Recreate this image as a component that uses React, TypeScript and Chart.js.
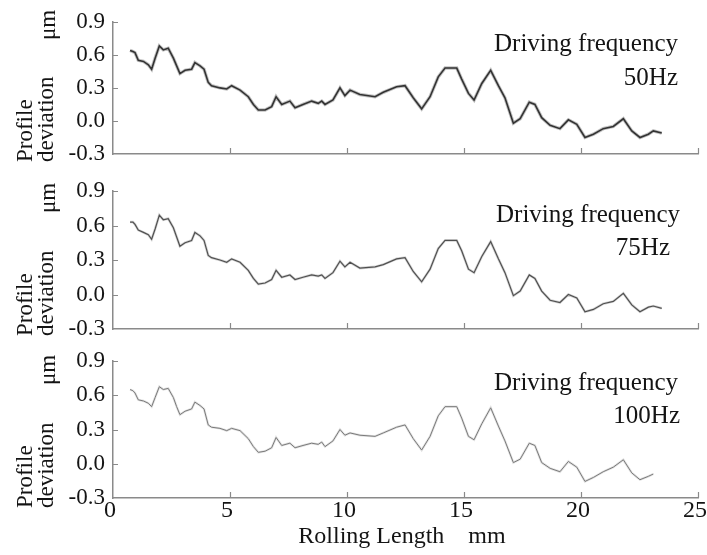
import React, { useEffect, useRef } from "react";
import { Chart, registerables } from "chart.js";

Chart.register(...registerables);

// ---- data ----
const lengthMm = [
  0.73, 0.85, 0.94, 1.08, 1.3, 1.51, 1.65, 1.8, 1.98, 2.15, 2.36, 2.58, 2.72, 2.86, 3.08, 3.36, 3.5, 3.72, 3.89, 4.07,
  4.21, 4.57, 4.86, 5.07, 5.43, 5.78, 6.0, 6.21, 6.5, 6.78, 6.97, 7.21, 7.56, 7.78, 8.12, 8.49, 8.77, 8.92, 9.06, 9.4,
  9.7, 9.91, 10.13, 10.55, 11.2, 11.55, 12.12, 12.48, 12.83, 13.19, 13.55, 13.9, 14.19, 14.69, 14.9, 15.19, 15.43, 15.76, 16.14, 16.47,
  16.75, 17.11, 17.4, 17.79, 18.03, 18.32, 18.68, 19.1, 19.46, 19.82, 20.17, 20.53, 20.95, 21.38, 21.81, 22.17, 22.52, 22.88, 23.09, 23.45,
];

const dev50Hz = [
  0.64, 0.63, 0.62, 0.55, 0.54, 0.51, 0.47, 0.57, 0.68, 0.645, 0.66, 0.57, 0.5, 0.43, 0.46, 0.47, 0.53, 0.5, 0.47, 0.35,
  0.32, 0.3, 0.29, 0.32, 0.28, 0.22, 0.15, 0.1, 0.1, 0.13, 0.22, 0.15, 0.18, 0.12, 0.15, 0.18, 0.16, 0.18, 0.15, 0.19,
  0.3, 0.23, 0.28, 0.24, 0.22, 0.26, 0.31, 0.32, 0.21, 0.11, 0.22, 0.4, 0.48, 0.48, 0.38, 0.25, 0.19, 0.34, 0.46, 0.32,
  0.21, -0.02, 0.02, 0.17, 0.15, 0.03, -0.04, -0.07, 0.01, -0.03, -0.15, -0.12, -0.07, -0.05, 0.02, -0.09, -0.15, -0.12, -0.09, -0.11,
];

const dev75Hz = [
  0.63, 0.63, 0.61, 0.56, 0.54, 0.52, 0.48, 0.57, 0.69, 0.65, 0.66, 0.58, 0.5, 0.42, 0.45, 0.47, 0.54, 0.51, 0.47, 0.34,
  0.32, 0.3, 0.28, 0.31, 0.28, 0.21, 0.14, 0.09, 0.1, 0.13, 0.21, 0.15, 0.17, 0.13, 0.15, 0.17, 0.16, 0.17, 0.14, 0.19,
  0.29, 0.24, 0.28, 0.23, 0.24, 0.26, 0.31, 0.32, 0.2, 0.11, 0.22, 0.4, 0.47, 0.47, 0.38, 0.22, 0.19, 0.33, 0.46, 0.31,
  0.19, -0.01, 0.03, 0.17, 0.14, 0.03, -0.05, -0.07, 0.0, -0.03, -0.15, -0.13, -0.08, -0.06, 0.01, -0.09, -0.15, -0.11, -0.1, -0.12,
];

const dev100Hz = [
  0.65, 0.64, 0.62, 0.56, 0.55, 0.53, 0.5, 0.58, 0.675, 0.65, 0.66, 0.58, 0.5, 0.43, 0.46, 0.48, 0.54, 0.51, 0.48, 0.34,
  0.32, 0.31, 0.29, 0.31, 0.29, 0.22, 0.15, 0.1, 0.11, 0.14, 0.23, 0.16, 0.18, 0.14, 0.16, 0.18, 0.17, 0.19, 0.15, 0.2,
  0.3, 0.25, 0.27, 0.25, 0.24, 0.27, 0.32, 0.34, 0.22, 0.12, 0.24, 0.42, 0.5, 0.5, 0.4, 0.24, 0.21, 0.35, 0.49, 0.33,
  0.2, 0.01, 0.04, 0.18, 0.16, 0.01, -0.04, -0.07, 0.02, -0.03, -0.155, -0.12, -0.07, -0.03, 0.035, -0.08, -0.14, -0.11, -0.09, null,
];

const yTickValues = [-0.3, 0.0, 0.3, 0.6, 0.9];
const xTickValues = [0, 5, 10, 15, 20, 25];
const frequencyLabels = ["50Hz", "75Hz", "100Hz"];
const annotationTitle = "Driving frequency";
const yTitleLine1 = "Profile";
const yTitleLine2 = "deviation";
const yUnit = "\u03bcm";
const xTitle = "Rolling Length    mm";

// ---- layout / style ----
const SERIF = "'Liberation Serif', 'Times New Roman', 'DejaVu Serif', serif";
const CW = 720;
const CH = 555;
const AXIS_LEFT = 113;
const AXIS_RIGHT = 698;
const XH = 40;
const AXIS_COLOR = "#8a8a8a";
const TEXT_COLOR = "#141414";

type PanelSpec = {
  values: (number | null)[];
  label: string;
  top: number;
  bottom: number;
  showX: boolean;
  line: string;
  lineWidth: number;
  halo: string;
  haloWidth: number;
  drvRight: number;
  drvBase: number;
  hzRight: number;
  hzBase: number;
  yTitleBottom: number;
  unitBottom: number;
};

const panels: PanelSpec[] = [
  {
    values: dev50Hz, label: frequencyLabels[0], top: 17, bottom: 154, showX: false,
    line: "#333333", lineWidth: 1.6, halo: "#c2c2c2", haloWidth: 3.4,
    drvRight: 678, drvBase: 51, hzRight: 678, hzBase: 85, yTitleBottom: 162, unitBottom: 40,
  },
  {
    values: dev75Hz, label: frequencyLabels[1], top: 191, bottom: 329, showX: false,
    line: "#505050", lineWidth: 1.2, halo: "#d4d4d4", haloWidth: 2.6,
    drvRight: 680, drvBase: 222, hzRight: 670, hzBase: 255, yTitleBottom: 336, unitBottom: 213,
  },
  {
    values: dev100Hz, label: frequencyLabels[2], top: 361, bottom: 498, showX: true,
    line: "#7a7a7a", lineWidth: 1.0, halo: "#e2e2e2", haloWidth: 2.4,
    drvRight: 678, drvBase: 390, hzRight: 680, hzBase: 423, yTitleBottom: 508, unitBottom: 385,
  },
];

function makeDecorPlugin(p: PanelSpec) {
  return {
    id: "decor",
    afterDraw(chart: any) {
      const { ctx, chartArea } = chart;
      const xs = chart.scales.x;
      const ys = chart.scales.y;
      ctx.save();
      // inward tick marks
      ctx.strokeStyle = AXIS_COLOR;
      ctx.lineWidth = 1.2;
      ctx.beginPath();
      for (const v of xTickValues) {
        if (v === 0) continue;
        const px = Math.round(xs.getPixelForValue(v)) + 0.5;
        ctx.moveTo(px, chartArea.bottom);
        ctx.lineTo(px, chartArea.bottom - 6);
      }
      for (const v of yTickValues) {
        if (v === yTickValues[0]) continue;
        const py = Math.round(ys.getPixelForValue(v)) + 0.5;
        ctx.moveTo(chartArea.left, py);
        ctx.lineTo(chartArea.left + 5, py);
      }
      ctx.stroke();

      ctx.fillStyle = TEXT_COLOR;
      // annotation
      ctx.font = `25px ${SERIF}`;
      ctx.textAlign = "right";
      ctx.textBaseline = "alphabetic";
      ctx.fillText(annotationTitle, p.drvRight, p.drvBase);
      ctx.fillText(p.label, p.hzRight, p.hzBase);

      // rotated y title
      ctx.font = `23px ${SERIF}`;
      ctx.textAlign = "left";
      const rot = (text: string, bx: number, by: number) => {
        ctx.save();
        ctx.translate(bx, by);
        ctx.rotate(-Math.PI / 2);
        ctx.fillText(text, 0, 0);
        ctx.restore();
      };
      rot(yTitleLine1, 32, p.yTitleBottom);
      rot(yTitleLine2, 53, p.yTitleBottom);
      rot(yUnit, 55, p.unitBottom);

      if (p.showX) {
        ctx.font = `24px ${SERIF}`;
        ctx.textAlign = "center";
        ctx.textBaseline = "middle";
        ctx.fillText(xTitle, 402, 537);
      }
      ctx.restore();
    },
  };
}

function PanelChart({ spec }: { spec: PanelSpec }) {
  const ref = useRef<HTMLCanvasElement | null>(null);
  useEffect(() => {
    if (!ref.current) return;
    const haloPts = lengthMm.map((x, i) => ({ x, y: spec.values[i] }));
    const linePts = lengthMm.map((x, i) => ({ x, y: spec.values[i] }));
    const chart = new Chart(ref.current, {
      type: "line",
      data: {
        datasets: [
          { data: haloPts, borderColor: spec.halo, borderWidth: spec.haloWidth, pointRadius: 0, tension: 0, fill: false, order: 2 },
          { data: linePts, borderColor: spec.line, borderWidth: spec.lineWidth, pointRadius: 0, tension: 0, fill: false, order: 1 },
        ],
      },
      options: {
        responsive: false,
        animation: false,
        devicePixelRatio: 1,
        events: [],
        layout: {
          padding: { left: 0, right: CW - AXIS_RIGHT, top: spec.top, bottom: CH - spec.bottom - XH },
        },
        plugins: { legend: { display: false }, tooltip: { enabled: false }, title: { display: false } },
        scales: {
          x: {
            type: "linear",
            min: 0,
            max: 25,
            afterBuildTicks: (s: any) => {
              s.ticks = xTickValues.map((v) => ({ value: v }));
            },
            afterFit: (s: any) => {
              s.height = XH;
            },
            grid: { drawOnChartArea: false, drawTicks: false },
            border: { color: AXIS_COLOR, width: 1.5 },
            ticks: {
              display: spec.showX,
              autoSkip: false,
              maxRotation: 0,
              padding: 0,
              labelOffset: -3,
              color: TEXT_COLOR,
              font: { family: SERIF, size: 24, lineHeight: 1.1 },
              callback: (v: any) => String(v),
            },
          },
          y: {
            type: "linear",
            min: -0.3,
            max: 0.9,
            afterBuildTicks: (s: any) => {
              s.ticks = yTickValues.map((v) => ({ value: v }));
            },
            afterFit: (s: any) => {
              s.width = AXIS_LEFT;
            },
            grid: { drawOnChartArea: false, drawTicks: false },
            border: { color: AXIS_COLOR, width: 1.5 },
            ticks: {
              padding: 8,
              color: TEXT_COLOR,
              font: { family: SERIF, size: 23 },
              callback: (v: any) => Number(v).toFixed(1),
            },
          },
        },
      },
      plugins: [makeDecorPlugin(spec)],
    } as any);
    return () => chart.destroy();
  }, [spec]);
  return (
    <canvas
      ref={ref}
      width={CW}
      height={CH}
      style={{ position: "absolute", left: 0, top: 0, width: CW, height: CH }}
    />
  );
}

export default function App() {
  return (
    <div
      style={{
        position: "fixed",
        left: 0,
        top: 0,
        width: 707,
        height: 555,
        overflow: "hidden",
        background: "#ffffff",
      }}
    >
      {panels.map((p) => (
        <PanelChart key={p.label} spec={p} />
      ))}
    </div>
  );
}
